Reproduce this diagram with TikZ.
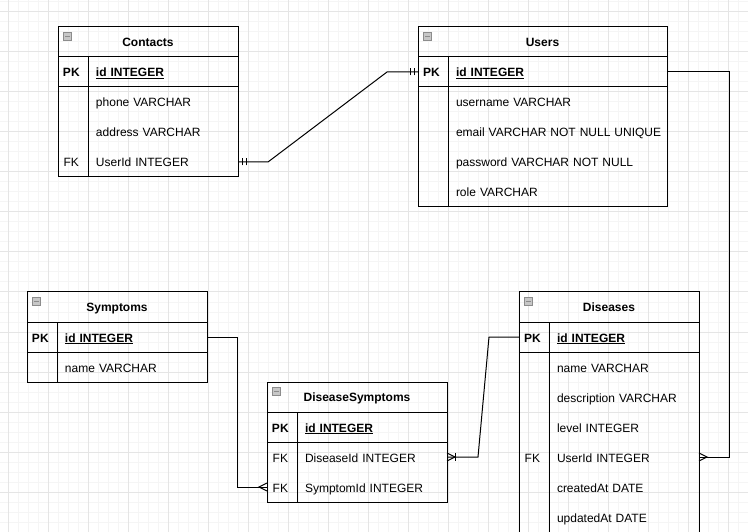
\documentclass[tikz,border=0pt]{standalone}
\usepackage{fontspec}
\setmainfont{Liberation Sans}
\usetikzlibrary{matrix,positioning,decorations.markings}

\tikzset{
  erline/.style={line width=1pt},
  gridminor/.style={draw=black!4, line width=1pt},
  gridmajor/.style={draw=black!10, line width=1pt},
  tabletitle/.style={draw, line width=1pt, minimum height=30pt, minimum width=#1,
    inner sep=0pt, outer sep=0pt, font=\fontsize{12}{14}\selectfont\bfseries,
    text height=8.7pt, text depth=0pt, anchor=north west},
  minusbox/.style={draw=black!45, fill=black!22, line width=0.8pt, minimum size=8pt,
    inner sep=0pt, outer sep=0pt,
    path picture={\draw[line width=1.3pt] ([xshift=1.8pt]path picture bounding box.west)
      -- ([xshift=-1.8pt]path picture bounding box.east);}},
  entity/.style={matrix of nodes, nodes in empty cells, draw, line width=1pt,
    inner sep=0pt, outer sep=0pt, row sep=0pt, column sep=0pt,
    nodes={inner ysep=0pt, outer sep=0pt, minimum height=30pt,
      text height=11pt, text depth=1pt, anchor=center},
    column 1/.style={nodes={inner xsep=0pt, minimum width=30pt, align=center}},
    column 2/.style={nodes={inner xsep=8pt, text width=#1, align=left}}},
  mandboth/.style={postaction={decorate, decoration={markings,
    mark=at position 4pt with {\draw[line width=1pt] (0,-3.5pt) -- (0,3.5pt);},
    mark=at position 8pt with {\draw[line width=1pt] (0,-3.5pt) -- (0,3.5pt);},
    mark=at position -4pt with {\draw[line width=1pt] (0,-3.5pt) -- (0,3.5pt);},
    mark=at position -8pt with {\draw[line width=1pt] (0,-3.5pt) -- (0,3.5pt);}}}},
  manyend/.style={postaction={decorate, decoration={markings,
    mark=at position -8pt with {\draw[line width=1pt] (8pt,4pt) -- (0,0) -- (8pt,-4pt);}}}},
  onemanyend/.style={postaction={decorate, decoration={markings,
    mark=at position -8pt with {\draw[line width=1pt] (8pt,4pt) -- (0,0) -- (8pt,-4pt);},
    mark=at position -8.5pt with {\draw[line width=1pt] (0,-4pt) -- (0,4pt);}}}},
}

\begin{document}
\begin{tikzpicture}[x=1pt, y=-1pt, font=\fontsize{12}{14}\selectfont]
  \useasboundingbox (0,0) rectangle (748,532);
  \clip (0,0) rectangle (748,532);

  % grid
  \foreach \gx in {8,18,...,748} \draw[gridminor] (\gx,0) -- (\gx,532);
  \foreach \gy in {2,12,...,532} \draw[gridminor] (0,\gy) -- (748,\gy);
  \foreach \gx in {8,48,...,728} \draw[gridmajor] (\gx,0) -- (\gx,532);
  \foreach \gy in {12,52,...,532} \draw[gridmajor] (0,\gy) -- (748,\gy);

  % Contacts
  \node[tabletitle=180pt] (contactsT) at (58,27) {Contacts};
  \node[minusbox] (contactsM) at ([shift={(9.5,9.5)}]contactsT.north west) {};
  \matrix (contacts) [entity=134pt, below=0pt of contactsT]
  {
    \textbf{PK} & \underline{\textbf{id INTEGER}} \\
                & phone VARCHAR \\
                & address VARCHAR \\
    FK          & UserId INTEGER \\
  };
  \draw[erline] (contacts-1-1.south west) -- (contacts-1-2.south east);
  \draw[erline] (contacts-1-1.north east) -- (contacts-4-1.south east);

  % Users
  \node[tabletitle=249pt] (usersT) at (418,27) {Users};
  \node[minusbox] (usersM) at ([shift={(9.5,9.5)}]usersT.north west) {};
  \matrix (users) [entity=203pt, below=0pt of usersT]
  {
    \textbf{PK} & \underline{\textbf{id INTEGER}} \\
                & username VARCHAR \\
                & \mbox{email VARCHAR NOT NULL UNIQUE} \\
                & password VARCHAR NOT NULL \\
                & role VARCHAR \\
  };
  \draw[erline] (users-1-1.south west) -- (users-1-2.south east);
  \draw[erline] (users-1-1.north east) -- (users-5-1.south east);

  % Symptoms
  \node[tabletitle=180pt] (symptomsT) at (27,292) {Symptoms};
  \node[minusbox] (symptomsM) at ([shift={(9.5,9.5)}]symptomsT.north west) {};
  \matrix (symptoms) [entity=134pt, below=0pt of symptomsT]
  {
    \textbf{PK} & \underline{\textbf{id INTEGER}} \\
                & name VARCHAR \\
  };
  \draw[erline] (symptoms-1-1.south west) -- (symptoms-1-2.south east);
  \draw[erline] (symptoms-1-1.north east) -- (symptoms-2-1.south east);

  % DiseaseSymptoms
  \node[tabletitle=180pt] (dsymptomsT) at (267,382) {DiseaseSymptoms};
  \node[minusbox] (dsymptomsM) at ([shift={(9.5,9.5)}]dsymptomsT.north west) {};
  \matrix (dsymptoms) [entity=134pt, below=0pt of dsymptomsT]
  {
    \textbf{PK} & \underline{\textbf{id INTEGER}} \\
    FK          & DiseaseId INTEGER \\
    FK          & SymptomId INTEGER \\
  };
  \draw[erline] (dsymptoms-1-1.south west) -- (dsymptoms-1-2.south east);
  \draw[erline] (dsymptoms-1-1.north east) -- (dsymptoms-3-1.south east);

  % Diseases
  \node[tabletitle=180pt] (diseasesT) at (519,292) {Diseases};
  \node[minusbox] (diseasesM) at ([shift={(9.5,9.5)}]diseasesT.north west) {};
  \matrix (diseases) [entity=134pt, below=0pt of diseasesT]
  {
    \textbf{PK} & \underline{\textbf{id INTEGER}} \\
                & name VARCHAR \\
                & description VARCHAR \\
                & level INTEGER \\
    FK          & UserId INTEGER \\
                & createdAt DATE \\
                & updatedAt DATE \\
  };
  \draw[erline] (diseases-1-1.south west) -- (diseases-1-2.south east);
  \draw[erline] (diseases-1-1.north east) -- (diseases-7-1.south east);

  % relations
  \draw[erline, mandboth] (contacts-4-2.east) -- ++(30,0)
    -- ([xshift=-31pt]users-1-1.west) -- (users-1-1.west);
  \draw[erline, manyend] (users-1-2.east) -- ++(62,0) |- (diseases-5-2.east);
  \draw[erline, manyend] (symptoms-1-2.east) -- ++(30,0) |- (dsymptoms-3-1.west);
  \draw[erline, onemanyend] (diseases-1-1.west) -- ++(-30,0)
    -- ([xshift=31pt]dsymptoms-2-2.east) -- (dsymptoms-2-2.east);
\end{tikzpicture}
\end{document}
